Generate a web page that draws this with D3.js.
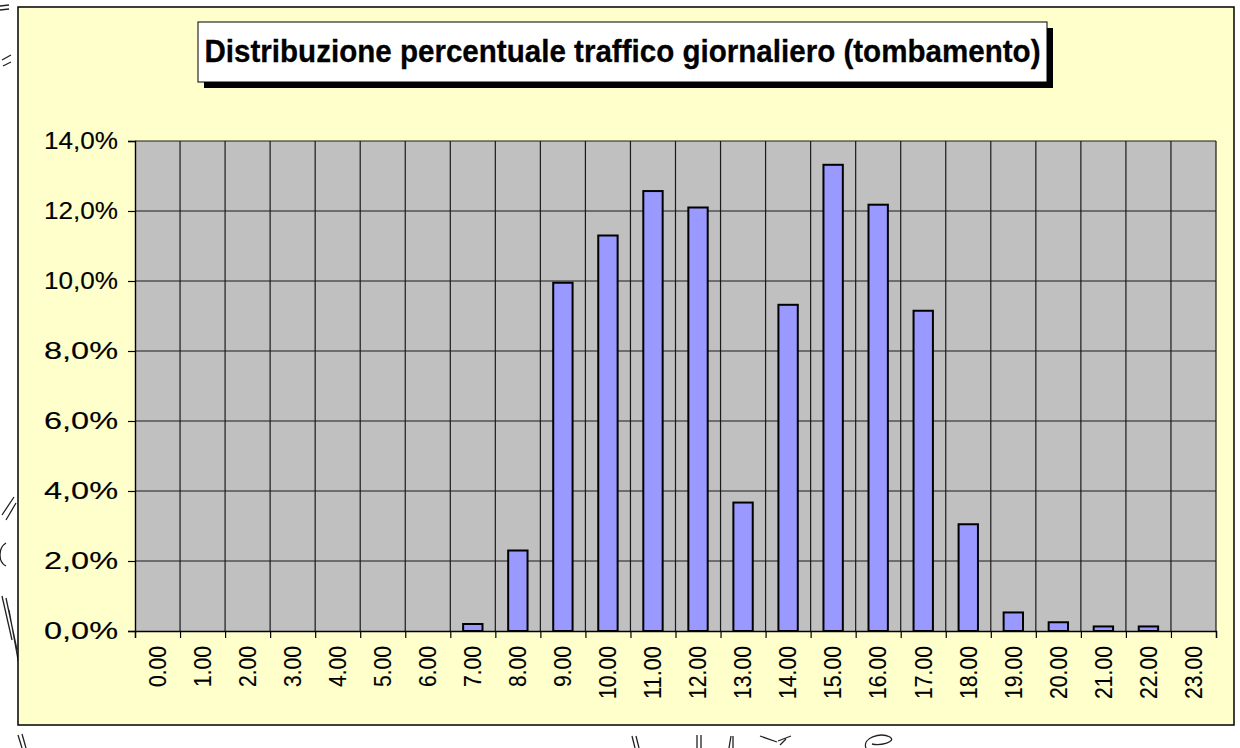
<!DOCTYPE html>
<html>
<head>
<meta charset="utf-8">
<script src="https://cdn.jsdelivr.net/npm/d3@7/dist/d3.min.js"></script>
<style>
  html, body { margin: 0; padding: 0; background: #fff; }
  svg { display: block; font-family: "Liberation Sans", Arial, sans-serif; }
</style>
</head>
<body>
<svg id="chart" width="1240" height="748"></svg>
<script>
// data: hour of day -> share of daily traffic (%)
var hours = ["0.00","1.00","2.00","3.00","4.00","5.00","6.00","7.00","8.00","9.00","10.00","11.00",
             "12.00","13.00","14.00","15.00","16.00","17.00","18.00","19.00","20.00","21.00","22.00","23.00"];
var shares = [0, 0, 0, 0, 0, 0, 0, 0.2, 2.3, 9.95, 11.3, 12.57,
              12.1, 3.67, 9.32, 13.32, 12.18, 9.15, 3.05, 0.53, 0.25, 0.13, 0.13, 0];
var yTicks = [0, 2, 4, 6, 8, 10, 12, 14];
var title = "Distribuzione percentuale traffico giornaliero (tombamento)";

var svg = d3.select("#chart");

var frame = {x: 18, y: 7, w: 1216, h: 718};
var plot = {left: 135, right: 1216, top: 141, bottom: 631};

// little scanner leftovers around the sheet
var scribbles = [
  "M0,6 L9,5 M0,10 L9,9",
  "M2,60 L11,55 M3,66 L11,62",
  "M2,515 L14,497 M6,520 L16,503",
  "M6,543 C-2,548 -2,562 6,566",
  "M2,596 L12,640 M6,598 L17,650 M9,610 L19,665",
  "M18,735 L22,748 M22,734 L26,748",
  "M632,736 L635,748 M636,736 L639,748",
  "M697,735 L697,748 M701,735 L701,748",
  "M731,736 L729,748 M733,736 L733,748",
  "M760,736 L777,742 M778,741 L791,736 M786,739 L780,745",
  "M866,748 C862,738 880,732 890,737 C897,742 880,746 872,744"
];
svg.append("g").selectAll("path").data(scribbles).join("path")
  .attr("d", function(d) { return d; })
  .attr("fill", "none").attr("stroke", "#222").attr("stroke-width", 1.3);

// chart area
svg.append("rect")
  .attr("x", frame.x).attr("y", frame.y).attr("width", frame.w).attr("height", frame.h)
  .attr("fill", "#FFFFCC").attr("stroke", "#000").attr("stroke-width", 1.5);

var x = d3.scaleBand().domain(hours).range([plot.left, plot.right]).padding(0);
var xEdge = d3.scaleLinear().domain([0, hours.length]).range([plot.left, plot.right]);
var y = d3.scaleLinear().domain([0, 14]).range([plot.bottom, plot.top]);

var it = d3.formatLocale({decimal: ",", thousands: ".", grouping: [3], currency: ["", "€"]});
var fmt = function(d) { return it.format(".1f")(d) + "%"; };

// plot background
svg.append("rect")
  .attr("x", plot.left).attr("y", plot.top)
  .attr("width", plot.right - plot.left).attr("height", plot.bottom - plot.top)
  .attr("fill", "#C0C0C0");

// gridlines
svg.append("g").selectAll("line").data(yTicks.slice(1)).join("line")
  .attr("x1", plot.left).attr("x2", plot.right)
  .attr("y1", function(d) { return y(d); }).attr("y2", function(d) { return y(d); })
  .attr("stroke", "#1a1a1a").attr("stroke-width", 1.2);

svg.append("g").selectAll("line").data(d3.range(1, hours.length + 1)).join("line")
  .attr("x1", function(d) { return xEdge(d); }).attr("x2", function(d) { return xEdge(d); })
  .attr("y1", plot.top).attr("y2", plot.bottom)
  .attr("stroke", "#1a1a1a").attr("stroke-width", 1.2);

// bars
var barW = x.bandwidth() * 0.43;
svg.append("g").selectAll("rect").data(shares).join("rect")
  .attr("x", function(d, i) { return x(hours[i]) + (x.bandwidth() - barW) / 2; })
  .attr("y", function(d) { return y(d); })
  .attr("width", barW)
  .attr("height", function(d) { return y(0) - y(d); })
  .attr("fill", "#9999FF")
  .attr("stroke", "#000").attr("stroke-width", 2)
  .style("display", function(d) { return d > 0 ? null : "none"; });

// y axis
var yAxis = svg.append("g")
  .attr("transform", "translate(" + plot.left + ",0)")
  .call(d3.axisLeft(y).tickValues(yTicks).tickFormat(fmt).tickSize(7).tickPadding(10));
yAxis.select(".domain").attr("stroke", "#000").attr("stroke-width", 1.4);
yAxis.selectAll(".tick line").attr("stroke", "#000").attr("stroke-width", 1.2);
yAxis.selectAll("text").attr("font-size", 24).attr("fill", "#000")
  .attr("stroke", "#000").attr("stroke-width", 0.15)
  .attr("font-family", "'Liberation Sans', Arial, sans-serif")
  .attr("textLength", 74).attr("lengthAdjust", "spacingAndGlyphs");

// x axis: ticks at the category edges, labels rotated in each category
var xTicks = svg.append("g")
  .attr("transform", "translate(0," + plot.bottom + ")")
  .call(d3.axisBottom(xEdge).tickValues(d3.range(0, hours.length + 1)).tickFormat("").tickSize(7));
xTicks.select(".domain").attr("stroke", "#000").attr("stroke-width", 1.4);
xTicks.selectAll(".tick line").attr("stroke", "#000").attr("stroke-width", 1.2);

var xAxis = svg.append("g")
  .attr("transform", "translate(0," + plot.bottom + ")")
  .call(d3.axisBottom(x).tickSize(0).tickPadding(0));
xAxis.select(".domain").remove();
xAxis.selectAll("text")
  .attr("font-size", 23).attr("fill", "#000")
  .attr("stroke", "#000").attr("stroke-width", 0.12)
  .attr("font-family", "'Liberation Sans', Arial, sans-serif")
  .attr("text-anchor", "end")
  .attr("transform", "rotate(-90)")
  .attr("x", -15).attr("y", 0).attr("dy", "0.36em")
  .attr("textLength", function(d) { return d.length > 4 ? 53 : 41; })
  .attr("lengthAdjust", "spacingAndGlyphs");

// title box with shadow
var tb = {x: 198, y: 22, w: 849, h: 60};
svg.append("rect")
  .attr("x", tb.x + 6).attr("y", tb.y + 6).attr("width", tb.w).attr("height", tb.h)
  .attr("fill", "#000");
svg.append("rect")
  .attr("x", tb.x).attr("y", tb.y).attr("width", tb.w).attr("height", tb.h)
  .attr("fill", "#fff").attr("stroke", "#000").attr("stroke-width", 1);
svg.append("text")
  .attr("x", tb.x + tb.w / 2).attr("y", 62)
  .attr("text-anchor", "middle")
  .attr("font-size", 31).attr("font-weight", "bold").attr("fill", "#000")
  .attr("stroke", "#000").attr("stroke-width", 0.3)
  .attr("textLength", 836).attr("lengthAdjust", "spacingAndGlyphs")
  .text(title);
</script>
</body>
</html>
